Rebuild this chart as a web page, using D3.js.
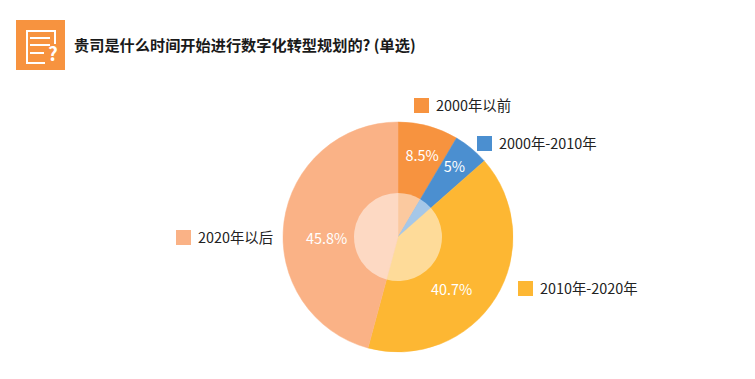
<!DOCTYPE html>
<html lang="zh">
<head>
<meta charset="utf-8">
<title>数字化转型规划</title>
<script src="https://d3js.org/d3.v7.min.js"></script>
<style>
    html, body { margin: 0; padding: 0; background: #fff; }
    svg { display: block; }
    text { font-family: "Noto Sans CJK SC", "Noto Sans", sans-serif; }
</style>
</head>
<body>
<div id="chart"></div>
<script>
    const title = "贵司是什么时间开始进行数字化转型规划的? (单选)";
    const categories = ["2000年以前", "2000年-2010年", "2010年-2020年", "2020年以后"];
    const shares = [8.5, 5, 40.7, 45.8];
    const shareLabels = ["8.5%", "5%", "40.7%", "45.8%"];
    const colors = ["#f7933f", "#4b8fd0", "#fdb733", "#fab286"];

    var width = 755, height = 379;
    var cx = 398, cy = 237, outerR = 115, innerR = 44;

    var svg = d3.select("#chart").append("svg")
        .attr("width", width)
        .attr("height", height);

    // header icon
    var icon = svg.append("g").attr("transform", "translate(16,20)");
    icon.append("rect").attr("width", 49).attr("height", 50).attr("fill", "#f7933f");
    icon.append("path")
        .attr("d", "M29 43H11V11H39V24")
        .attr("fill", "none").attr("stroke", "#fff").attr("stroke-width", 2);
    icon.selectAll("line.row")
        .data([18, 25, 33])
        .enter().append("line")
        .attr("class", "row")
        .attr("x1", 14).attr("x2", function(d, i) { return i == 2 ? 28 : 34; })
        .attr("y1", function(d) { return d; }).attr("y2", function(d) { return d; })
        .attr("stroke", "#fff").attr("stroke-width", 2);
    icon.append("text")
        .attr("x", 37).attr("y", 41)
        .attr("text-anchor", "middle")
        .attr("font-size", 19).attr("font-weight", 700)
        .attr("fill", "#fff")
        .text("?");

    svg.append("text")
        .attr("x", 74).attr("y", 51)
        .attr("font-size", 15.2).attr("font-weight", 700)
        .attr("fill", "#1a1a1a")
        .text(title);

    // pie, clockwise from 12 o'clock
    var pie = d3.pie().sort(null).value(function(d) { return d; });
    var arcs = pie(shares);
    var outer = d3.arc().innerRadius(0).outerRadius(outerR);
    var inner = d3.arc().innerRadius(0).outerRadius(innerR);

    var g = svg.append("g").attr("transform", "translate(" + cx + "," + cy + ")");
    g.selectAll("path.slice")
        .data(arcs)
        .enter().append("path")
        .attr("class", "slice")
        .attr("d", outer)
        .attr("fill", function(d, i) { return colors[i]; })
        .attr("stroke", function(d, i) { return colors[i]; })
        .attr("stroke-width", 0.5);
    // lighter centre disc
    g.selectAll("path.hub")
        .data(arcs)
        .enter().append("path")
        .attr("class", "hub")
        .attr("d", inner)
        .attr("fill", "#fff")
        .attr("fill-opacity", 0.5);

    // labels were hand-placed in the original, so nudge them off the centroid
    var labelArc = d3.arc().innerRadius(76).outerRadius(76);
    var labelNudge = [[4, -8], [8, -11], [-11, 13], [4, 12]];
    g.selectAll("text.share")
        .data(arcs)
        .enter().append("text")
        .attr("class", "share")
        .attr("transform", function(d, i) {
            var c = labelArc.centroid(d);
            return "translate(" + (c[0] + labelNudge[i][0]) + "," + (c[1] + labelNudge[i][1]) + ")";
        })
        .attr("text-anchor", "middle")
        .attr("dy", "0.35em")
        .attr("font-size", 14.4)
        .attr("fill", "#fff")
        .text(function(d, i) { return shareLabels[i]; });

    // legend blocks sit next to their slices
    var legendPos = [[414, 98], [477, 136], [518, 281], [176, 230]];
    var legend = svg.selectAll("g.legend")
        .data(categories)
        .enter().append("g")
        .attr("class", "legend")
        .attr("transform", function(d, i) { return "translate(" + legendPos[i] + ")"; });
    legend.append("rect")
        .attr("width", 15).attr("height", 15)
        .attr("fill", function(d, i) { return colors[i]; });
    legend.append("text")
        .attr("x", 22).attr("y", 8)
        .attr("dy", "0.35em")
        .attr("font-size", 14.4)
        .attr("fill", "#222")
        .text(function(d) { return d; });
</script>
</body>
</html>
